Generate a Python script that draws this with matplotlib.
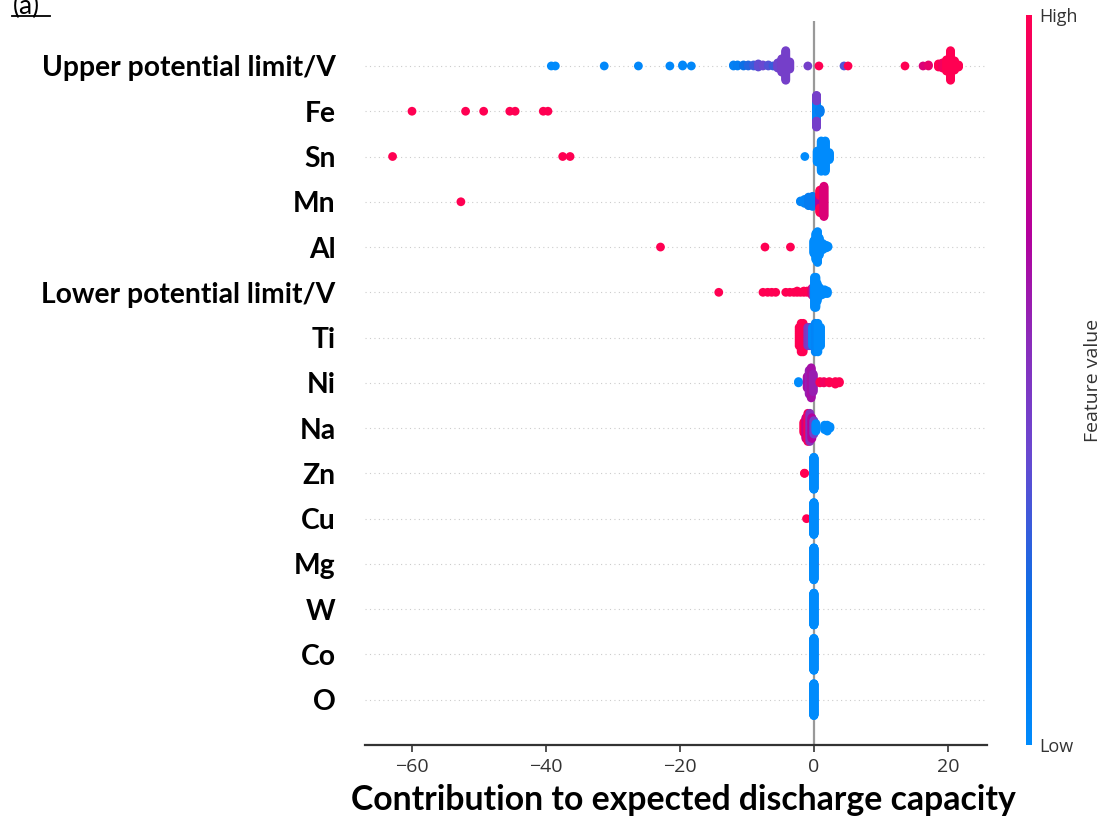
import numpy as np
import matplotlib
matplotlib.use("Agg")
import matplotlib.pyplot as plt
from matplotlib.colors import LinearSegmentedColormap
from matplotlib.lines import Line2D

# ---------------- data ----------------
features = ["Upper potential limit/V", "Fe", "Sn", "Mn", "Al",
            "Lower potential limit/V", "Ti", "Ni", "Na", "Zn",
            "Cu", "Mg", "W", "Co", "O"]

# each entry: (SHAP contribution, normalised feature value 0..1, number of samples)
upper_pts = [(-39.2, 0.0, 1), (-38.6, 0.0, 1), (-31.3, 0.02, 1), (-26.2, 0.03, 1),
             (-21.5, 0.02, 1), (-19.6, 0.03, 2), (-18.3, 0.03, 1),
             (-12.0, 0.08, 2), (-11.4, 0.1, 2), (-10.5, 0.2, 2), (-9.8, 0.25, 2),
             (-9.0, 0.3, 2), (-8.3, 0.38, 4), (-7.6, 0.4, 2), (-6.8, 0.35, 2),
             (-6.1, 0.3, 1), (-5.4, 0.42, 6), (-4.8, 0.45, 14), (-4.2, 0.45, 30),
             (-3.6, 0.45, 8), (-0.9, 0.45, 1), (0.75, 1.0, 1), (4.5, 0.35, 1),
             (5.1, 1.0, 1), (13.6, 1.0, 1), (16.3, 0.85, 1), (17.1, 0.9, 2),
             (18.6, 1.0, 4), (19.2, 0.95, 6), (19.8, 1.0, 12), (20.4, 1.0, 30),
             (21.0, 1.0, 10), (21.6, 1.0, 3)]
fe_pts = [(-60.0, 1.0, 1), (-52.0, 1.0, 1), (-49.3, 1.0, 1), (-45.4, 1.0, 1),
          (-44.6, 1.0, 1), (-40.4, 1.0, 1), (-39.7, 1.0, 1),
          (0.4, 0.05, 40), (0.4, 0.45, 25), (0.9, 0.1, 8)]
sn_pts = [(-62.9, 1.0, 1), (-37.5, 1.0, 1), (-36.4, 1.0, 1), (-1.35, 0.0, 1),
          (0.5, 0.0, 15), (1.1, 0.0, 40), (1.7, 0.0, 40), (2.3, 0.0, 10)]
mn_pts = [(-52.7, 1.0, 1), (-2.0, 0.05, 2), (-1.4, 0.05, 6), (-0.8, 0.1, 12),
          (-0.2, 0.1, 14), (0.9, 0.7, 15), (0.9, 1.0, 15), (1.5, 0.85, 40)]
al_pts = [(-22.9, 1.0, 1), (-7.3, 1.0, 1), (-3.5, 1.0, 1),
          (0.0, 0.0, 15), (0.3, 0.0, 30), (0.55, 0.0, 35), (0.8, 0.0, 20),
          (1.3, 0.0, 8), (1.8, 0.0, 4), (2.1, 0.0, 2)]
lower_pts = [(-14.2, 1.0, 1), (-7.6, 1.0, 1), (-6.9, 1.0, 1), (-6.3, 1.0, 1),
             (-5.7, 1.0, 1), (-4.2, 1.0, 1), (-3.6, 1.0, 1), (-3.0, 1.0, 1),
             (-2.5, 1.0, 2), (-2.0, 1.0, 1), (-1.5, 1.0, 2), (-1.0, 1.0, 2),
             (-0.3, 0.9, 6), (-0.1, 0.5, 8), (0.1, 0.0, 25), (0.3, 0.0, 25),
             (0.5, 0.0, 15), (0.8, 0.0, 8), (1.2, 0.0, 5), (1.6, 0.0, 4), (2.0, 0.0, 3)]
ti_pts = [(-2.2, 1.0, 10), (-1.9, 1.0, 15), (-1.6, 1.0, 15), (-1.3, 1.0, 10),
          (-0.9, 0.5, 10), (-0.6, 0.45, 10), (-0.2, 0.0, 10), (0.2, 0.05, 15),
          (0.6, 0.0, 15), (1.0, 0.0, 10)]
ni_pts = [(-2.3, 0.0, 2), (-1.0, 0.65, 10), (-0.7, 0.6, 20), (-0.4, 0.65, 25),
          (-0.1, 0.6, 15), (0.9, 1.0, 2), (1.5, 0.95, 2), (2.3, 1.0, 2),
          (3.2, 1.0, 3), (3.8, 1.0, 2)]
na_pts = [(-1.5, 1.0, 8), (-1.2, 0.8, 15), (-0.9, 0.95, 20), (-0.6, 0.55, 20),
          (-0.3, 0.7, 15), (0.0, 0.45, 10), (0.3, 0.0, 6), (1.6, 0.0, 4),
          (2.0, 0.0, 5), (2.4, 0.0, 2)]
zn_pts = [(-1.4, 1.0, 2), (0.0, 0.0, 140)]
cu_pts = [(-1.1, 1.0, 1), (0.0, 0.0, 140)]
mg_pts = [(0.0, 1.0, 2), (0.0, 0.5, 2), (0.0, 0.0, 140)]
w_pts = [(0.0, 0.0, 140)]
co_pts = [(0.0, 0.0, 140)]
o_pts = [(0.0, 0.0, 140)]

rows = [upper_pts, fe_pts, sn_pts, mn_pts, al_pts, lower_pts, ti_pts, ni_pts,
        na_pts, zn_pts, cu_pts, mg_pts, w_pts, co_pts, o_pts]

xticks = [-60, -40, -20, 0, 20]

# ---------------- styling ----------------
cmap = LinearSegmentedColormap.from_list("red_blue", [
    (0.0, "#008BFC"), (0.2, "#0A6FE6"), (0.4, "#6A48D0"), (0.55, "#8A2DBB"),
    (0.7, "#B3009C"), (0.85, "#DB0077"), (1.0, "#FF0052")])

BOLD = ["Lato", "DejaVu Sans"]
LIGHT = ["Open Sans", "DejaVu Sans"]


def expand(groups):
    v = np.repeat([g[0] for g in groups], [g[2] for g in groups]).astype(float)
    c = np.repeat([g[1] for g in groups], [g[2] for g in groups]).astype(float)
    return v, c


def swarm_offsets(vals, row_height=0.4, nbins=100):
    n = len(vals)
    quant = np.round(nbins * (vals - vals.min()) / (vals.max() - vals.min() + 1e-8))
    inds = np.argsort(quant, kind="stable")
    ys = np.zeros(n)
    layer, last = 0, -1
    for i in inds:
        if quant[i] != last:
            layer = 0
        ys[i] = np.ceil(layer / 2) * ((layer % 2) * 2 - 1)
        layer += 1
        last = quant[i]
    ys *= 0.9 * (row_height / np.max(ys + 1))
    return ys


fig = plt.figure(figsize=(11.03, 8.24), dpi=100)
ax = fig.add_axes([364.7 / 1103, 79 / 824, 622 / 1103, 724.3 / 824])

n = len(features)
for i, (name, grp) in enumerate(zip(features, rows)):
    pos = n - 1 - i
    ax.axhline(pos, color="#cccccc", lw=0.8, dashes=(1, 3), zorder=-1)
    vals, cols = expand(grp)
    ys = swarm_offsets(vals)
    ax.scatter(vals, pos + ys, c=cols, cmap=cmap, vmin=0, vmax=1, s=40,
               linewidths=0, alpha=1, zorder=3)

ax.axvline(0, color="#999999", lw=1.6, zorder=2)

ax.set_xlim(-67.06, 25.8)
ax.set_ylim(-1, n)
ax.set_yticks(range(n))
ax.set_yticklabels(features[::-1])
for t in ax.get_yticklabels():
    t.set_fontfamily(BOLD)
    t.set_fontweight("bold")
    t.set_fontsize(20.3)
    t.set_color("black")
ax.tick_params(axis="y", length=0, pad=21)

ax.set_xticks(xticks)
ax.set_xticklabels([f"\u2212{abs(v)}" if v < 0 else str(v) for v in xticks])
for t in ax.get_xticklabels():
    t.set_fontfamily(LIGHT)
    t.set_fontsize(14)
    t.set_color("#333333")
ax.tick_params(axis="x", color="#333333", length=5, width=1.2, pad=4)

for s in ["top", "right", "left"]:
    ax.spines[s].set_visible(False)
ax.spines["bottom"].set_color("#333333")
ax.spines["bottom"].set_linewidth(1.6)

fig.text(683.5 / 1103, 1 - 810 / 824, "Contribution to expected discharge capacity",
         fontsize=24.3, fontweight="bold", family=BOLD, color="black",
         ha="center", va="baseline")

# colour bar
cax = fig.add_axes([1026 / 1103, 79 / 824, 6 / 1103, 730 / 824])
sm = matplotlib.cm.ScalarMappable(cmap=cmap, norm=matplotlib.colors.Normalize(0, 1))
cb = fig.colorbar(sm, cax=cax, ticks=[0, 1])
cb.outline.set_visible(False)
cb.set_ticklabels(["Low", "High"])
cax.tick_params(length=0, labelsize=13, pad=5)
for t in cax.get_yticklabels():
    t.set_fontfamily(LIGHT)
    t.set_color("#333333")
cb.set_label("Feature value", fontsize=14, family=LIGHT, color="#333333", labelpad=5)

# panel tag (cut off at the top edge, as in the reference)
fig.text(13 / 1103, 1 - 14 / 824, "(a)", fontsize=19, family=["Lato", "DejaVu Sans"],
         ha="left", va="baseline")
fig.add_artist(Line2D([12 / 1103, 50 / 1103], [1 - 16 / 824, 1 - 16 / 824],
                      color="black", lw=1.3))

fig.savefig("out.png", dpi=100)
